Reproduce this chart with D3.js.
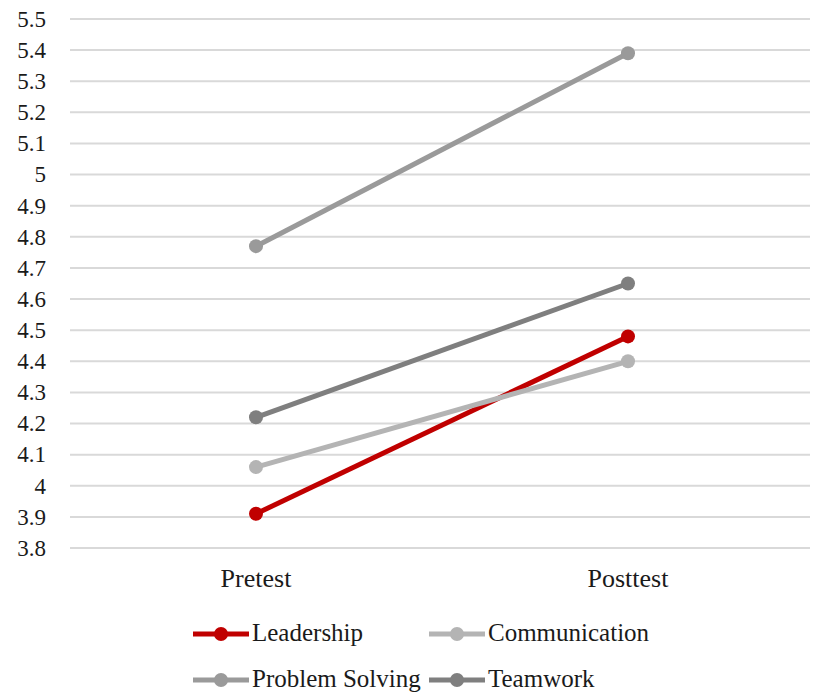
<!DOCTYPE html>
<html><head><meta charset="utf-8">
<script src="https://cdn.jsdelivr.net/npm/d3@7"></script>
</head><body style="margin:0">
<script>
const categories = ["Pretest", "Posttest"];
const seriesNames = ["Leadership", "Communication", "Problem Solving", "Teamwork"];
const leadership = [3.91, 4.48];
const communication = [4.06, 4.40];
const problemSolving = [4.77, 5.39];
const teamwork = [4.22, 4.65];
const yTicks = [3.8,3.9,4,4.1,4.2,4.3,4.4,4.5,4.6,4.7,4.8,4.9,5,5.1,5.2,5.3,5.4,5.5];
const colors = ["#c00000", "#b4b4b4", "#9a9a9a", "#7f7f7f"];

const W = 815, H = 692;
const FONT = "Times New Roman, Liberation Serif, Tinos, serif";
const svg = d3.select("body").append("svg").attr("width", W).attr("height", H)
  .style("display", "block").attr("font-family", FONT);

const x = d3.scaleBand().domain(categories).range([70, 814]);
const y = d3.scaleLinear().domain([3.8, 5.5]).range([548, 19]);

// gridlines and y labels drawn from the scale
const yg = svg.append("g");
yg.selectAll("line").data(yTicks).enter().append("line")
  .attr("x1", 70).attr("x2", 810).attr("y1", d => y(d)).attr("y2", d => y(d))
  .attr("stroke", "#d9d9d9").attr("stroke-width", 2);
yg.selectAll("text").data(yTicks).enter().append("text")
  .attr("x", 46).attr("y", d => y(d)).attr("dy", "0.34em").attr("text-anchor", "end")
  .attr("font-family", FONT).attr("font-size", 23).attr("fill", "#1a1a1a")
  .text(d => d3.format("")(+d.toFixed(1)));

svg.append("g").selectAll("text").data(categories).enter().append("text")
  .attr("x", d => x(d) + x.bandwidth() / 2).attr("y", 587).attr("text-anchor", "middle")
  .attr("font-family", FONT).attr("font-size", 26).attr("fill", "#1a1a1a").text(d => d);

const data = [leadership, communication, problemSolving, teamwork];
const line = d3.line().x((d, i) => x(categories[i]) + x.bandwidth() / 2).y(d => y(d));

data.forEach((vals, s) => {
  svg.append("path").attr("d", line(vals)).attr("fill", "none")
    .attr("stroke", colors[s]).attr("stroke-width", 5);
  svg.selectAll(null).data(vals).enter().append("circle")
    .attr("cx", (d, i) => x(categories[i]) + x.bandwidth() / 2)
    .attr("cy", d => y(d)).attr("r", 7).attr("fill", colors[s]);
});

const legPos = [[193, 634], [429, 634], [193, 680], [429, 680]];
seriesNames.forEach((name, s) => {
  const [lx, ly] = legPos[s];
  const g = svg.append("g").attr("transform", `translate(${lx},${ly})`);
  g.append("line").attr("x1", 0).attr("x2", 56).attr("stroke", colors[s]).attr("stroke-width", 5);
  g.append("circle").attr("cx", 28).attr("r", 7).attr("fill", colors[s]);
  g.append("text").attr("x", 59).attr("y", 7).attr("font-family", FONT).attr("font-size", 25)
    .attr("fill", "#1a1a1a").text(name);
});
</script>
</body></html>
